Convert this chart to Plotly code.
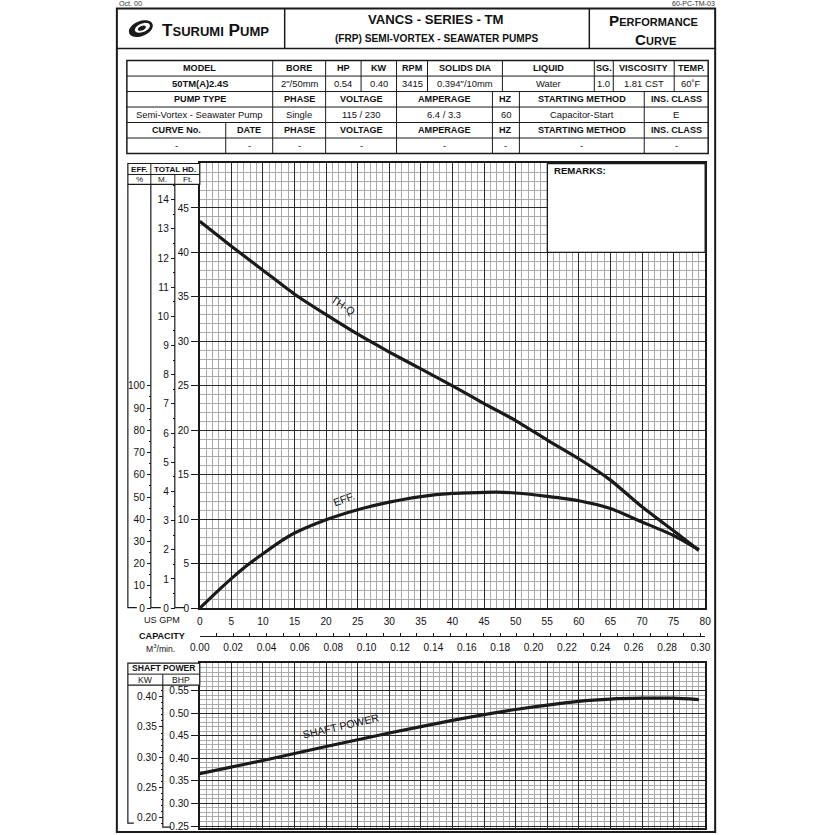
import plotly.graph_objects as go
import numpy as np

W = H = 835
# the captured picture comes out slightly compressed; positions below are given in
# reference-picture pixels and mapped back through that measured transform
SX, OX = 0.982, 10.0
SY, OY = 0.9935, -0.6
FS = 1.012
def px(x):
    return ((x - OX) / SX) / W
def py(y):
    return 1 - ((y - OY) / SY) / H

# ---------------- data ----------------
gpm_head = [0, 5, 10, 15, 20, 25, 30, 35, 40, 45, 50, 55, 60, 65, 70, 75, 79]
head_ft = [43.5, 40.7, 38.0, 35.3, 33.0, 30.8, 28.8, 26.9, 25.0, 23.0, 21.1, 18.9, 16.8, 14.4, 11.4, 8.7, 6.5]

gpm_eff = [0, 2.5, 5, 7.5, 10, 12.5, 15, 20, 25, 30, 35, 40, 45, 47, 50, 55, 60, 65, 70, 75, 79]
eff_pct = [0, 6.8, 13.3, 19.3, 24.5, 29.5, 33.8, 39.8, 44.3, 47.7, 50.2, 51.6, 52.1, 52.2, 51.8, 50.3, 48.3, 44.8, 38.8, 32.7, 26.3]

gpm_pow = [0, 10, 20, 30, 40, 50, 60, 65, 70, 75, 79]
power_bhp = [0.366, 0.395, 0.426, 0.456, 0.484, 0.508, 0.526, 0.531, 0.533, 0.533, 0.530]

gpm_ticks = list(range(0, 81, 5))
ft_ticks = list(range(0, 46, 5))
eff_ticks = list(range(0, 101, 10))
m_ticks = list(range(0, 15))
m3_ticks = [round(0.02 * i, 2) for i in range(16)]
bhp_ticks = [0.25, 0.30, 0.35, 0.40, 0.45, 0.50, 0.55]
kw_ticks = [0.20, 0.25, 0.30, 0.35, 0.40]

FT_PER_M = 3.28084
M3MIN_PER_GPM = 0.00378541
KW_PER_HP = 0.7457

table_row1_head = ["MODEL", "BORE", "HP", "KW", "RPM", "SOLIDS DIA", "LIQUID", "SG.", "VISCOSITY", "TEMP."]
table_row1_vals = ["<b>50TM(A)2.4S</b>", "2\"/50mm", "0.54", "0.40", "3415", "0.394\"/10mm", "Water", "1.0", "1.81 CST", "60˚F"]
table_row2_head = ["PUMP TYPE", "PHASE", "VOLTAGE", "AMPERAGE", "HZ", "STARTING METHOD", "INS. CLASS"]
table_row2_vals = ["Semi-Vortex - Seawater Pump", "Single", "115 / 230", "6.4 / 3.3", "60", "Capacitor-Start", "E"]
table_row3_head = ["CURVE No.", "DATE", "PHASE", "VOLTAGE", "AMPERAGE", "HZ", "STARTING METHOD", "INS. CLASS"]
table_row3_vals = ["-", "-", "-", "-", "-", "-", "-", "-"]

# ---------------- layout geometry (reference pixels) ----------------
GX0, GX1 = 200, 706
MAIN_Y0, MAIN_Y1 = 608, 163
POW_Y0, POW_Y1 = 828, 663
bhp_lo = 0.25 - 2 / 452
bhp_hi = 0.25 + 163 / 452

FONT = "Arial, Liberation Sans, sans-serif"
INK = "#1a1a1a"

fig = go.Figure()
curve_line = dict(color=INK, width=3.2, shape="spline", smoothing=0.6)
fig.add_trace(go.Scatter(x=gpm_head, y=head_ft, mode="lines", line=curve_line,
                         xaxis="x", yaxis="y", hoverinfo="skip", showlegend=False))
fig.add_trace(go.Scatter(x=gpm_eff, y=eff_pct, mode="lines", line=curve_line,
                         xaxis="x", yaxis="y2", hoverinfo="skip", showlegend=False))
fig.add_trace(go.Scatter(x=gpm_pow, y=power_bhp, mode="lines", line=curve_line,
                         xaxis="x2", yaxis="y4", hoverinfo="skip", showlegend=False))
# same curves in secondary units (invisible) so the secondary scales are tied to data
clear = dict(color="rgba(0,0,0,0)", width=0)
fig.add_trace(go.Scatter(x=gpm_head, y=[h / FT_PER_M for h in head_ft], mode="lines", line=clear,
                         xaxis="x", yaxis="y3", hoverinfo="skip", showlegend=False))
fig.add_trace(go.Scatter(x=[g * M3MIN_PER_GPM for g in gpm_head], y=head_ft, mode="lines", line=clear,
                         xaxis="x3", yaxis="y", hoverinfo="skip", showlegend=False))
fig.add_trace(go.Scatter(x=gpm_pow, y=[p * KW_PER_HP for p in power_bhp], mode="lines", line=clear,
                         xaxis="x2", yaxis="y5", hoverinfo="skip", showlegend=False))

tickfont = dict(family=FONT, size=10 * FS, color="#111")
major_grid = dict(showgrid=True, gridcolor="#2a2a2a", gridwidth=1.2)
minor_grid_x = dict(dtick=1, showgrid=True, gridcolor="#a9a9a9", gridwidth=1)

x_dom = [px(GX0), px(GX1)]
main_dom = [py(MAIN_Y0), py(MAIN_Y1)]
pow_dom = [py(POW_Y0), py(POW_Y1)]

fig.update_layout(
    width=W, height=H, autosize=False,
    margin=dict(l=0, r=0, t=0, b=0),
    paper_bgcolor="white", plot_bgcolor="white",
    font=dict(family=FONT, color="#111"),
    showlegend=False,
    xaxis=dict(domain=x_dom, anchor="y", range=[0, 80], tickvals=gpm_ticks, ticks="",
               showticklabels=True, tickfont=tickfont, ticklabelstandoff=3,
               minor=minor_grid_x, showline=True, mirror=True, linecolor=INK, linewidth=1.5,
               zeroline=False, fixedrange=True, **major_grid),
    yaxis=dict(domain=main_dom, anchor="x", range=[0, 50], tickvals=ft_ticks,
               ticks="outside", ticklen=7, tickcolor=INK, tickwidth=1.2, tickfont=tickfont,
               minor=dict(dtick=1, showgrid=True, gridcolor="#a9a9a9", gridwidth=1),
               showline=True, mirror=True, linecolor=INK, linewidth=1.5,
               zeroline=False, fixedrange=True, **major_grid),
    yaxis2=dict(overlaying="y", anchor="free", position=px(151), side="left", range=[0, 200],
                tickvals=eff_ticks, ticks="outside", ticklen=4, tickcolor=INK, tickfont=tickfont,
                minor=dict(tickvals=list(range(5, 100, 10)), ticks="outside", ticklen=2, tickcolor=INK),
                showgrid=False, showline=False, zeroline=False, fixedrange=True),
    yaxis3=dict(overlaying="y", anchor="free", position=px(175), side="left", range=[0, 50 / FT_PER_M],
                tickvals=m_ticks, ticks="outside", ticklen=4, tickcolor=INK, tickfont=tickfont,
                minor=dict(tickvals=[i + 0.5 for i in range(15)], ticks="outside", ticklen=2, tickcolor=INK),
                showgrid=False, showline=False, zeroline=False, fixedrange=True),
    xaxis3=dict(overlaying="x", anchor="free", position=py(636), side="bottom",
                range=[0, 80 * M3MIN_PER_GPM], tickvals=m3_ticks, tickformat=".2f",
                ticks="inside", ticklen=3, tickcolor=INK, tickfont=tickfont, ticklabelstandoff=2,
                minor=dict(dtick=0.01, ticks="inside", ticklen=3, tickcolor=INK),
                showline=True, linecolor=INK, linewidth=1, showgrid=False, zeroline=False,
                fixedrange=True),
    xaxis2=dict(domain=x_dom, anchor="y4", range=[0, 80], tickvals=gpm_ticks, ticks="",
                showticklabels=False, minor=minor_grid_x, showline=True, mirror=True,
                linecolor=INK, linewidth=1.5, zeroline=False, fixedrange=True, **major_grid),
    yaxis4=dict(domain=pow_dom, anchor="x2", range=[bhp_lo, bhp_hi], tickvals=bhp_ticks,
                tickformat=".2f", ticks="outside", ticklen=7, tickcolor=INK, tickwidth=1.2,
                tickfont=tickfont,
                minor=dict(dtick=0.01, tick0=0.25, showgrid=True, gridcolor="#a9a9a9", gridwidth=1),
                showline=True, mirror=True, linecolor=INK, linewidth=1.5,
                zeroline=False, fixedrange=True, **major_grid),
    yaxis5=dict(overlaying="y4", anchor="free", position=px(163), side="left",
                range=[bhp_lo * KW_PER_HP, bhp_hi * KW_PER_HP], tickvals=kw_ticks, tickformat=".2f",
                ticks="outside", ticklen=4, tickcolor=INK, tickfont=tickfont,
                minor=dict(dtick=0.01, tick0=0.2, ticks="outside", ticklen=2, tickcolor=INK),
                showgrid=False, showline=False, zeroline=False, fixedrange=True),
)

shapes = []
def line(x0, y0, x1, y1, w=1.0, color=INK):
    shapes.append(dict(type="line", xref="paper", yref="paper", x0=px(x0), y0=py(y0),
                       x1=px(x1), y1=py(y1), line=dict(color=color, width=w), layer="above"))
def rect(x0, y0, x1, y1, w=1.0, fill="rgba(0,0,0,0)"):
    shapes.append(dict(type="rect", xref="paper", yref="paper", x0=px(x0), y0=py(y0),
                       x1=px(x1), y1=py(y1), line=dict(color=INK, width=w), fillcolor=fill,
                       layer="above"))
def path(points, w=1.2, fill=None, color=INK):
    d = "M " + " L ".join(f"{px(x):.5f},{py(y):.5f}" for x, y in points)
    s = dict(type="path", xref="paper", yref="paper", path=d, line=dict(color=color, width=w),
             layer="above")
    if fill:
        s["path"] += " Z"
        s["fillcolor"] = fill
        s["line"] = dict(width=0)
    shapes.append(s)

# page frame and header
rect(117, 8, 716, 832, w=2)
line(117, 48, 716, 48, w=1.5)
line(285, 8, 285, 48, w=1.5)
line(590, 8, 590, 48, w=1.5)

# spec table
TX = [127, 709]
TY = [60, 75.5, 91, 106.5, 122, 137.5, 153]
rect(TX[0], TY[0], TX[1], TY[-1], w=1.5)
for yy in TY[1:-1]:
    line(TX[0], yy, TX[1], yy, w=1)
cols1 = [127, 273, 326, 361.5, 397, 428, 503, 595, 614, 675, 709]
cols2 = [127, 273, 326, 397, 493, 520, 645, 709]
cols3 = [127, 226, 273, 326, 397, 493, 520, 645, 709]
for c in cols1[1:-1]:
    line(c, TY[0], c, TY[2])
for c in cols2[1:-1]:
    line(c, TY[2], c, TY[4])
for c in cols3[1:-1]:
    line(c, TY[4], c, TY[6])

# main chart axis header and brackets
rect(128, 163, 200, 184, w=1.2, fill="white")
line(128, 174, 200, 174)
line(151, 163, 151, 184)
line(175, 174, 175, 184)
path([(128, 184), (128, 607.5), (137, 607.5)])
path([(151, 184), (151, 607.5), (161, 607.5)])
path([(175, 184), (175, 607.5), (185, 607.5)])

# remarks box
rect(548, 163, 706, 252, w=1.3, fill="white")

# shaft power header and brackets
rect(128, 663, 200, 685, w=1.2, fill="white")
line(128, 674, 200, 674)
line(163, 674, 163, 685)
path([(128, 685), (128, 823), (134, 823)])
path([(163, 685), (163, 827), (171, 827)])

# logo swirl
def ellipse(cx, cy, rx, ry, ang, n=40):
    t = np.linspace(0, 2 * np.pi, n, endpoint=False)
    a = np.deg2rad(ang)
    xs = cx + rx * np.cos(t) * np.cos(a) - ry * np.sin(t) * np.sin(a)
    ys = cy + rx * np.cos(t) * np.sin(a) + ry * np.sin(t) * np.cos(a)
    return list(zip(xs, ys))
path(ellipse(141, 28, 12.5, 7.5, -22), fill=INK)
path(ellipse(142.5, 27.2, 8, 4.2, -22), fill="white")
path(ellipse(142, 27.6, 4.2, 2.2, -22), fill=INK)

fig.update_layout(shapes=shapes)

ann = []
def text(x, y, s, size=9, bold=False, anchor="center", angle=0, color="#111", family=FONT):
    ann.append(dict(xref="paper", yref="paper", x=px(x), y=py(y), text=(f"<b>{s}</b>" if bold else s),
                    showarrow=False, xanchor=anchor, yanchor="middle", textangle=angle,
                    font=dict(family=family, size=size * FS, color=color)))

text(117, 3, "Oct. 00", size=7, anchor="left", color="#333")
text(718, 3, "60-PC-TM-03", size=7, anchor="right", color="#333")
text(216, 29, "T<span style='font-size:13px'>SURUMI</span> P<span style='font-size:13px'>UMP</span>",
     size=17, bold=True)
text(437, 19, "VANCS - SERIES - TM", size=13, bold=True)
text(437, 38, "(FRP) SEMI-VORTEX - SEAWATER PUMPS", size=10, bold=True)
text(654, 20, "P<span style='font-size:11px'>ERFORMANCE</span>", size=15, bold=True)
text(656, 39, "C<span style='font-size:11px'>URVE</span>", size=15, bold=True)

def row_text(cols, yc, labels, bold, size):
    for i, lab in enumerate(labels):
        text((cols[i] + cols[i + 1]) / 2, yc, lab, size=size, bold=bold)

row_text(cols1, (TY[0] + TY[1]) / 2, table_row1_head, True, 9)
row_text(cols1, (TY[1] + TY[2]) / 2, table_row1_vals, False, 9.3)
row_text(cols2, (TY[2] + TY[3]) / 2, table_row2_head, True, 9)
row_text(cols2, (TY[3] + TY[4]) / 2, table_row2_vals, False, 9.3)
row_text(cols3, (TY[4] + TY[5]) / 2, table_row3_head, True, 9)
row_text(cols3, (TY[5] + TY[6]) / 2, table_row3_vals, False, 9.3)

text(139.5, 169, "EFF.", size=8, bold=True)
text(175.5, 169, "TOTAL HD.", size=8, bold=True)
text(139.5, 179, "%", size=8)
text(163, 179, "M.", size=8)
text(187.5, 179, "Ft.", size=8)
text(553, 170, "REMARKS:", size=9.5, bold=True, anchor="left")

text(162, 620, "US GPM", size=9)
text(162, 636, "CAPACITY", size=9, bold=True)
text(161, 648, "M<sup>3</sup>/min.", size=8.5)

text(164, 668, "SHAFT POWER", size=8.5, bold=True)
text(145.5, 680, "KW", size=8.5)
text(181.5, 680, "BHP", size=8.5)

text(343, 305, "TH-Q", size=10.5, angle=33)
text(344, 499, "EFF.", size=10.5, angle=-20)
text(341, 726, "SHAFT POWER", size=10.5, angle=-13)

fig.update_layout(annotations=ann)
fig.write_html("out.html")
